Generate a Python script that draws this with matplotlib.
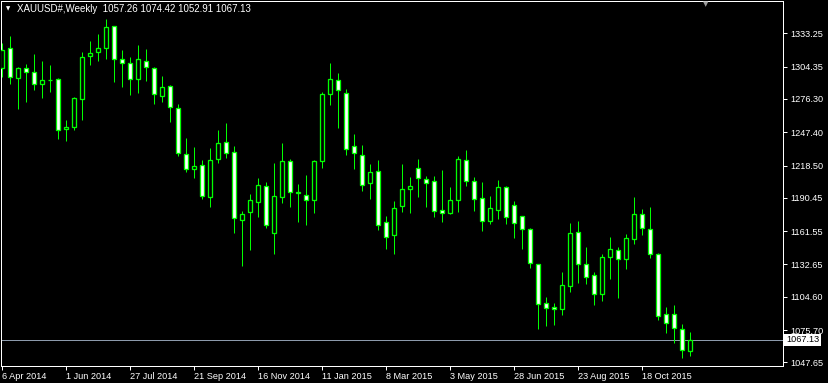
import matplotlib
matplotlib.use('Agg')
import matplotlib.pyplot as plt
from matplotlib.transforms import blended_transform_factory

# weekly XAUUSD candles, 6 Apr 2014 .. 29 Nov 2015
opens = [1303.4, 1320.2, 1294.2, 1302.9, 1299.9, 1289.0, 1292.3, 1293.3, 1249.9, 1252.2,
         1276.0, 1313.3, 1316.8, 1320.2, 1339.3, 1310.7, 1307.2, 1293.3, 1308.9, 1302.9,
         1279.1, 1287.2, 1268.1, 1228.2, 1215.2, 1218.7, 1190.9, 1223.9, 1238.6, 1230.0,
         1170.9, 1177.9, 1186.6, 1200.4, 1159.6, 1190.9, 1222.1, 1195.0, 1193.2, 1188.3,
         1222.1, 1280.3, 1292.5, 1281.2, 1235.2, 1227.3, 1203.0, 1213.5, 1169.2, 1157.9,
         1183.1, 1197.8, 1216.1, 1206.5, 1204.8, 1179.6, 1177.5, 1188.8, 1223.0, 1204.8,
         1190.0, 1170.6, 1180.1, 1199.6, 1183.9, 1174.4, 1163.1, 1132.7, 1098.9, 1095.4,
         1093.7, 1113.6, 1160.5, 1132.7, 1123.2, 1107.2, 1138.8, 1144.9, 1137.1, 1154.4,
         1176.1, 1163.1, 1141.4, 1089.3, 1089.3, 1076.3, 1057.26]
highs = [1324.6, 1330.9, 1304.3, 1306.3, 1315.0, 1309.2, 1305.7, 1294.2, 1258.0, 1278.2,
         1316.8, 1326.6, 1332.6, 1345.7, 1339.5, 1318.8, 1312.9, 1323.1, 1319.6, 1303.7,
         1296.2, 1288.1, 1271.9, 1242.4, 1234.6, 1223.3, 1233.7, 1249.3, 1255.4, 1235.4,
         1179.0, 1193.8, 1207.6, 1203.9, 1220.7, 1238.0, 1224.1, 1202.2, 1210.3, 1223.0,
         1282.3, 1307.5, 1298.8, 1284.9, 1245.8, 1236.3, 1219.8, 1223.0, 1174.7, 1187.7,
         1219.8, 1208.5, 1224.1, 1209.4, 1209.4, 1214.6, 1199.8, 1226.7, 1232.0, 1208.5,
         1204.2, 1192.0, 1205.9, 1200.7, 1187.7, 1174.6, 1164.2, 1133.0, 1104.4, 1099.1,
         1125.8, 1168.6, 1170.3, 1147.8, 1125.8, 1141.7, 1156.4, 1147.8, 1158.8, 1191.2,
         1180.7, 1182.5, 1142.5, 1095.7, 1097.4, 1080.9, 1074.42]
lows = [1295.6, 1289.2, 1267.5, 1273.9, 1284.0, 1277.3, 1282.6, 1241.5, 1240.0, 1249.3,
        1258.0, 1305.7, 1309.2, 1310.9, 1291.2, 1286.9, 1279.7, 1281.7, 1292.1, 1271.9,
        1273.6, 1256.5, 1227.0, 1213.1, 1207.9, 1189.4, 1182.7, 1220.9, 1225.3, 1160.2,
        1131.5, 1145.4, 1174.1, 1164.5, 1141.9, 1186.2, 1182.7, 1169.7, 1167.1, 1177.5,
        1216.6, 1271.3, 1251.3, 1227.9, 1215.7, 1196.6, 1189.7, 1162.8, 1146.3, 1141.9,
        1178.4, 1177.5, 1191.4, 1182.7, 1174.1, 1169.7, 1176.4, 1178.4, 1201.0, 1179.3,
        1161.9, 1167.5, 1172.3, 1167.7, 1155.8, 1146.3, 1129.8, 1076.8, 1079.4, 1080.3,
        1089.0, 1109.0, 1116.8, 1115.9, 1097.7, 1101.1, 1120.2, 1103.7, 1128.9, 1150.4,
        1158.2, 1138.5, 1084.4, 1073.4, 1064.7, 1051.7, 1052.91]
closes = [1318.8, 1295.1, 1302.9, 1299.9, 1289.0, 1292.5, 1292.6, 1249.0, 1252.2, 1277.1,
          1312.4, 1315.9, 1320.2, 1338.5, 1310.7, 1307.2, 1293.3, 1310.7, 1304.3, 1280.3,
          1286.4, 1269.0, 1229.1, 1215.2, 1217.8, 1191.8, 1223.0, 1237.8, 1229.6, 1172.7,
          1176.1, 1188.3, 1201.3, 1166.6, 1191.8, 1222.1, 1195.2, 1195.4, 1188.3, 1222.1,
          1280.3, 1293.3, 1283.8, 1232.6, 1229.1, 1201.3, 1212.6, 1166.6, 1156.7, 1181.3,
          1197.8, 1200.4, 1207.4, 1203.6, 1178.7, 1177.5, 1188.3, 1223.9, 1205.3, 1189.7,
          1170.6, 1181.3, 1199.6, 1174.1, 1168.3, 1163.1, 1133.6, 1098.0, 1094.5, 1093.7,
          1114.8, 1159.6, 1132.7, 1121.5, 1106.7, 1139.1, 1145.8, 1137.1, 1155.3, 1176.1,
          1164.0, 1141.4, 1087.6, 1081.5, 1077.2, 1058.0, 1067.13]

price_ticks = [1333.25, 1304.35, 1276.30, 1247.40, 1218.50, 1190.45,
               1161.55, 1132.65, 1104.60, 1075.70, 1047.65]
date_pos = [0, 8, 16, 24, 32, 40, 48, 56, 64, 72, 80]
date_labels = ['6 Apr 2014', '1 Jun 2014', '27 Jul 2014', '21 Sep 2014', '16 Nov 2014',
               '11 Jan 2015', '8 Mar 2015', '3 May 2015', '28 Jun 2015', '23 Aug 2015',
               '18 Oct 2015']
title = 'XAUUSD#,Weekly  1057.26 1074.42 1052.91 1067.13'
last_price = 1067.13

GREEN = '#00ff00'
PX = 0.72  # one pixel in points at dpi 100
plt.rcParams['font.family'] = ['Liberation Sans', 'DejaVu Sans']

W, H = 829, 383
fig = plt.figure(figsize=(W / 100, H / 100), dpi=100, facecolor='black')
ax = fig.add_axes([1.5 / W, (H - 366) / H, (783 - 1.5) / W, (366 - 0.5) / H])
ax.set_facecolor('black')

x = list(range(len(opens)))
ax.vlines(x, lows, highs, color=GREEN, lw=PX, zorder=2)
bottoms = [min(o, c) for o, c in zip(opens, closes)]
heights = [abs(c - o) for o, c in zip(opens, closes)]
faces = ['black' if c > o else 'white' for o, c in zip(opens, closes)]
ax.bar(x, heights, bottom=bottoms, width=0.5, color=faces, edgecolor=GREEN,
       linewidth=PX * 1.3, zorder=3)

ax.axhline(last_price, color='#8c9aab', lw=PX, zorder=1)

ax.set_xlim(-0.1, 97.6)
ax.set_ylim(1044.5, 1361.7)

for s in ax.spines.values():
    s.set_color('white')
    s.set_linewidth(PX)

ax.yaxis.tick_right()
ax.set_yticks(price_ticks, [f'{v:.2f}' for v in price_ticks])
ax.set_xticks(date_pos, date_labels)
ax.tick_params(axis='y', colors='white', length=3, width=PX, pad=2, labelsize=6.6)
ax.tick_params(axis='x', colors='white', length=3, width=PX, pad=1, labelsize=6.6)
for lab in ax.get_xticklabels():
    lab.set_ha('left')

# current price box on the price scale
tr = blended_transform_factory(ax.transAxes, ax.transData)
ax.text(1.004, last_price, f'{last_price:.2f}', transform=tr, ha='left', va='center',
        fontsize=6.6, color='black', zorder=5,
        bbox=dict(facecolor='white', edgecolor='none', pad=1.2))

# header
fig.text(8 / W, 1 - 9 / H, '\u25bc', color='white', fontsize=4, ha='center', va='center',
         family='DejaVu Sans')
fig.text(17 / W, 1 - 9.5 / H, title, color='white', fontsize=7, ha='left', va='center')
fig.text(706 / W, 1 - 4 / H, '\u25bc', color='#9a9a9a', fontsize=5, ha='center',
         va='center', family='DejaVu Sans')

fig.savefig('out.png', dpi=100, facecolor='black')
